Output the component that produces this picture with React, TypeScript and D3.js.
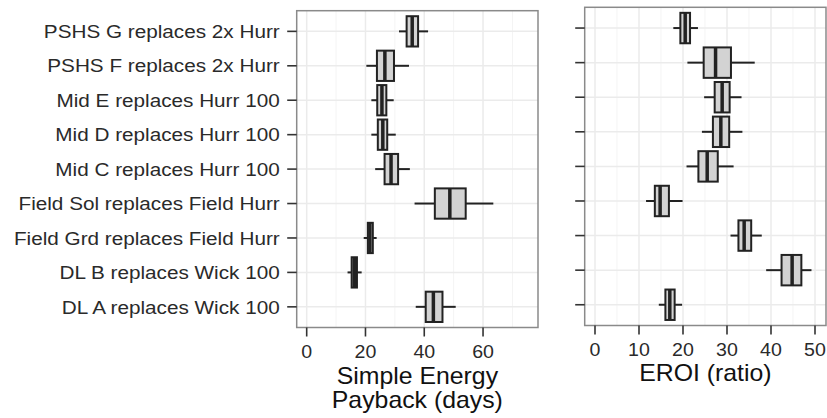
import React from "react";
import * as d3 from "d3";

const categories = [
  "PSHS G replaces 2x Hurr",
  "PSHS F replaces 2x Hurr",
  "Mid E replaces Hurr 100",
  "Mid D replaces Hurr 100",
  "Mid C replaces Hurr 100",
  "Field Sol replaces Field Hurr",
  "Field Grd replaces Field Hurr",
  "DL B replaces Wick 100",
  "DL A replaces Wick 100",
];

// Simple Energy Payback (days)
const paybackLow = [31.4, 20.3, 22.0, 22.0, 23.3, 36.7, 19.4, 13.9, 37.1];
const paybackQ1 = [34.0, 23.9, 24.0, 24.2, 26.5, 43.6, 20.8, 15.3, 40.5];
const paybackMed = [35.9, 26.6, 25.6, 25.9, 28.7, 48.7, 21.5, 16.2, 43.1];
const paybackQ3 = [37.9, 29.7, 27.1, 27.4, 31.1, 54.1, 22.5, 17.1, 46.2];
const paybackHigh = [41.3, 34.8, 29.6, 30.3, 35.1, 63.5, 23.8, 18.7, 50.7];

// EROI (ratio)
const eroiLow = [17.8, 21.0, 24.8, 24.3, 20.8, 11.6, 30.8, 38.9, 14.5];
const eroiQ1 = [19.4, 24.7, 27.2, 26.8, 23.5, 13.6, 32.6, 42.4, 16.0];
const eroiMed = [20.5, 27.4, 28.9, 28.6, 25.5, 14.8, 33.9, 44.8, 17.0];
const eroiQ3 = [21.6, 30.9, 30.6, 30.5, 27.9, 16.8, 35.5, 46.9, 18.1];
const eroiHigh = [23.4, 36.3, 33.3, 33.5, 31.5, 19.9, 37.9, 49.2, 19.8];

const paybackTicks = [0, 20, 40, 60];
const paybackMinor = [10, 30, 50, 70];
const eroiTicks = [0, 10, 20, 30, 40, 50];
const eroiMinor = [5, 15, 25, 35, 45];

const FONT = "'Liberation Sans', Arial, Helvetica, sans-serif";

type PanelProps = {
  x0: number;
  x1: number;
  y0: number;
  y1: number;
  domain: [number, number];
  ticks: number[];
  minor: number[];
  lo: number[];
  q1: number[];
  med: number[];
  q3: number[];
  hi: number[];
  showLabels: boolean;
  title: string[];
  titleY: number;
};

function Panel(p: PanelProps) {
  const x = d3.scaleLinear().domain(p.domain).range([p.x0, p.x1]);
  const y = d3.scalePoint<string>().domain(categories).range([p.y0, p.y1]).padding(0.6);
  const step = y.step();
  const half = step * 0.44;
  const grid = "#ebebeb";
  const minorGrid = "#f4f4f4";
  const dark = "#222";
  return (
    <g>
      <rect x={p.x0} y={p.y0} width={p.x1 - p.x0} height={p.y1 - p.y0} fill="#fff" />
      {p.minor.map((v) => (
        <line key={"mn" + v} x1={x(v)} x2={x(v)} y1={p.y0} y2={p.y1} stroke={minorGrid} strokeWidth={1} />
      ))}
      {p.ticks.map((v) => (
        <line key={"mj" + v} x1={x(v)} x2={x(v)} y1={p.y0} y2={p.y1} stroke={grid} strokeWidth={1.5} />
      ))}
      {categories.map((c) => (
        <line key={"hg" + c} x1={p.x0} x2={p.x1} y1={y(c)} y2={y(c)} stroke={grid} strokeWidth={1.5} />
      ))}
      {categories.map((c, i) => {
        const cy = y(c) as number;
        return (
          <g key={"bx" + c}>
            <line x1={x(p.lo[i])} x2={x(p.q1[i])} y1={cy} y2={cy} stroke={dark} strokeWidth={2} />
            <line x1={x(p.q3[i])} x2={x(p.hi[i])} y1={cy} y2={cy} stroke={dark} strokeWidth={2} />
            <rect
              x={x(p.q1[i])}
              y={cy - half}
              width={x(p.q3[i]) - x(p.q1[i])}
              height={half * 2}
              fill="#d3d3d3"
              stroke={dark}
              strokeWidth={2}
            />
            <line x1={x(p.med[i])} x2={x(p.med[i])} y1={cy - half} y2={cy + half} stroke={dark} strokeWidth={3.5} />
          </g>
        );
      })}
      <rect x={p.x0} y={p.y0} width={p.x1 - p.x0} height={p.y1 - p.y0} fill="none" stroke="#8a8a8a" strokeWidth={1.5} />
      {categories.map((c) => (
        <line key={"yt" + c} x1={p.x0 - 9.5} x2={p.x0} y1={y(c)} y2={y(c)} stroke="#333" strokeWidth={1.6} />
      ))}
      {p.showLabels &&
        categories.map((c) => (
          <text
            key={"yl" + c}
            transform={`translate(${p.x0 - 17},${(y(c) as number) + 6.7}) scale(1.12,1)`}
            textAnchor="end"
            fontFamily={FONT}
            fontSize={18.5}
            fill="#2a2a2a"
          >
            {c}
          </text>
        ))}
      {p.ticks.map((v) => (
        <g key={"xt" + v}>
          <line x1={x(v)} x2={x(v)} y1={p.y1} y2={p.y1 + 9} stroke="#333" strokeWidth={1.6} />
          <text
            transform={`translate(${x(v)},${p.y1 + 30}) scale(1.07,1)`}
            textAnchor="middle"
            fontFamily={FONT}
            fontSize={18.3}
            fill="#2a2a2a"
          >
            {v}
          </text>
        </g>
      ))}
      {p.title.map((t, i) => (
        <text
          key={"tt" + i}
          transform={`translate(${(p.x0 + p.x1) / 2},${p.titleY + i * 24}) scale(1.08,1)`}
          textAnchor="middle"
          fontFamily={FONT}
          fontSize={23}
          fill="#111"
        >
          {t}
        </text>
      ))}
    </g>
  );
}

export default function App() {
  return (
    <svg
      width={827}
      height={418}
      style={{ position: "absolute", left: 0, top: 0, background: "#fff" }}
    >
      <rect width={827} height={418} fill="#fff" />
      <Panel
        x0={296.7}
        x1={538}
        y0={10.7}
        y1={327.5}
        domain={[-3.4, 78.7]}
        ticks={paybackTicks}
        minor={paybackMinor}
        lo={paybackLow}
        q1={paybackQ1}
        med={paybackMed}
        q3={paybackQ3}
        hi={paybackHigh}
        showLabels={true}
        title={["Simple Energy", "Payback (days)"]}
        titleY={383.5}
      />
      <Panel
        x0={584.7}
        x1={826}
        y0={7.3}
        y1={325.5}
        domain={[-2.34, 52.5]}
        ticks={eroiTicks}
        minor={eroiMinor}
        lo={eroiLow}
        q1={eroiQ1}
        med={eroiMed}
        q3={eroiQ3}
        hi={eroiHigh}
        showLabels={false}
        title={["EROI (ratio)"]}
        titleY={381}
      />
    </svg>
  );
}
